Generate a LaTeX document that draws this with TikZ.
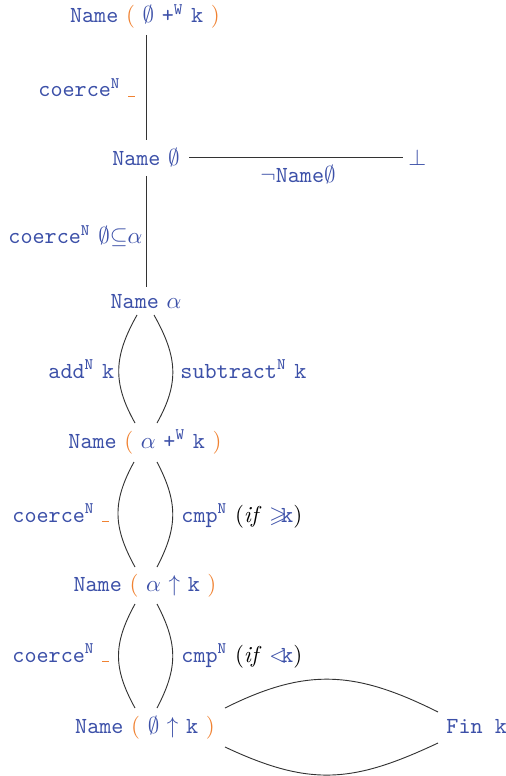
\documentclass[tikz,border=0pt]{standalone}
\usepackage{amssymb}
\usetikzlibrary{calc}
\definecolor{agblue}{RGB}{60,80,168}
\definecolor{agorange}{RGB}{240,130,50}
\newcommand\tk[1]{\texttt{#1}}
\newcommand\sups[1]{\textsuperscript{\texttt{#1}}}
\newcommand\op{\textcolor{agorange}{(}}
\newcommand\cp{\textcolor{agorange}{)}}
\newcommand\hole{\textcolor{agorange}{\rule{3pt}{0.5pt}}}
\tikzset{
  obj/.style={inner sep=0pt, text=agblue, anchor=base},
  lbl/.style={inner sep=0pt, text=agblue, anchor=base west},
  conn/.style={draw=black!80, line width=0.4pt}
}
\begin{document}
\begin{tikzpicture}[x=0.43478pt, y=-0.43478pt]
\useasboundingbox (0,0) rectangle (505,776);
% objects
\node[obj] (n1) at (145,23) {\tk{Name}~\op~$\emptyset$~\tk{+}\sups{W}~\tk{k}~\cp};
\node[obj] (n2) at (146,166) {\tk{Name}~$\emptyset$};
\node[obj, anchor=base west] (bot) at (408,166) {$\bot$};
\node[obj] (n3) at (146,308) {\tk{Name}~$\alpha$};
\node[obj] (n4) at (145,448) {\tk{Name}~\op~$\alpha$~\tk{+}\sups{W}~\tk{k}~\cp};
\node[obj] (n5) at (145,591) {\tk{Name}~\op~$\alpha$~$\uparrow$~\tk{k}~\cp};
\node[obj] (n6) at (145,733) {\tk{Name}~\op~$\emptyset$~$\uparrow$~\tk{k}~\cp};
\node[obj, anchor=base west] (fin) at (446,733) {\tk{Fin k}};
% labels
\node[lbl] (l1) at (38,97) {\tk{coerce}\sups{N}~\hole};
\node[lbl] (l2) at (260,183) {$\neg$\tk{Name}$\emptyset$};
\node[lbl] (l3) at (8,244) {\tk{coerce}\sups{N}~$\emptyset{\subseteq}\alpha$};
\node[lbl] (l4) at (48,378) {\tk{add}\sups{N}~\tk{k}};
\node[lbl] (l5) at (180,378) {\tk{subtract}\sups{N}~\tk{k}};
\node[lbl] (l6) at (12,522) {\tk{coerce}\sups{N}~\hole};
\node[lbl] (l7) at (181,522) {\tk{cmp}\sups{N}~\textcolor{black}{(\textit{if}}~$\geqslant$\kern-2.5pt\tk{k}\textcolor{black}{)}};
\node[lbl] (l8) at (12,662) {\tk{coerce}\sups{N}~\hole};
\node[lbl] (l9) at (181,662) {\tk{cmp}\sups{N}~\textcolor{black}{(\textit{if}}~$<$\kern-2.5pt\tk{k}\textcolor{black}{)}};
% connectors
\draw[conn] ($(n1.base)+(1,12)$) -- ($(n2.base)+(0,-26)$);
\draw[conn] ($(n2.base)+(0,10)$) -- ($(n3.base)+(0,-21)$);
\draw[conn] ($(n2.base east)+(9,-9)$) -- ($(bot.base west)+(-5,-9)$);
\draw[conn] ($(n3.base)+(-9,7)$) .. controls +(-23,41) and +(-23,-41) .. ($(n4.base)+(-10,-25)$);
\draw[conn] ($(n3.base)+(8,7)$) .. controls +(23,41) and +(23,-41) .. ($(n4.base)+(12,-25)$);
\draw[conn] ($(n4.base)+(-11,14)$) .. controls +(-22,40) and +(-22,-40) .. ($(n5.base)+(-10,-24)$);
\draw[conn] ($(n4.base)+(12,14)$) .. controls +(21,40) and +(21,-40) .. ($(n5.base)+(12,-24)$);
\draw[conn] ($(n5.base)+(-10,13)$) .. controls +(-22,40) and +(-22,-40) .. ($(n6.base)+(-10,-25)$);
\draw[conn] ($(n5.base)+(12,13)$) .. controls +(21,40) and +(21,-40) .. ($(n6.base)+(12,-25)$);
\draw[conn] ($(n6.base)+(80,-25)$) .. controls +(82,-41) and +(-82,-41) .. ($(fin.base west)+(-8,-21)$);
\draw[conn] ($(n6.base)+(80,14)$) .. controls +(85,40) and +(-85,40) .. ($(fin.base west)+(-8,10)$);
\end{tikzpicture}
\end{document}
